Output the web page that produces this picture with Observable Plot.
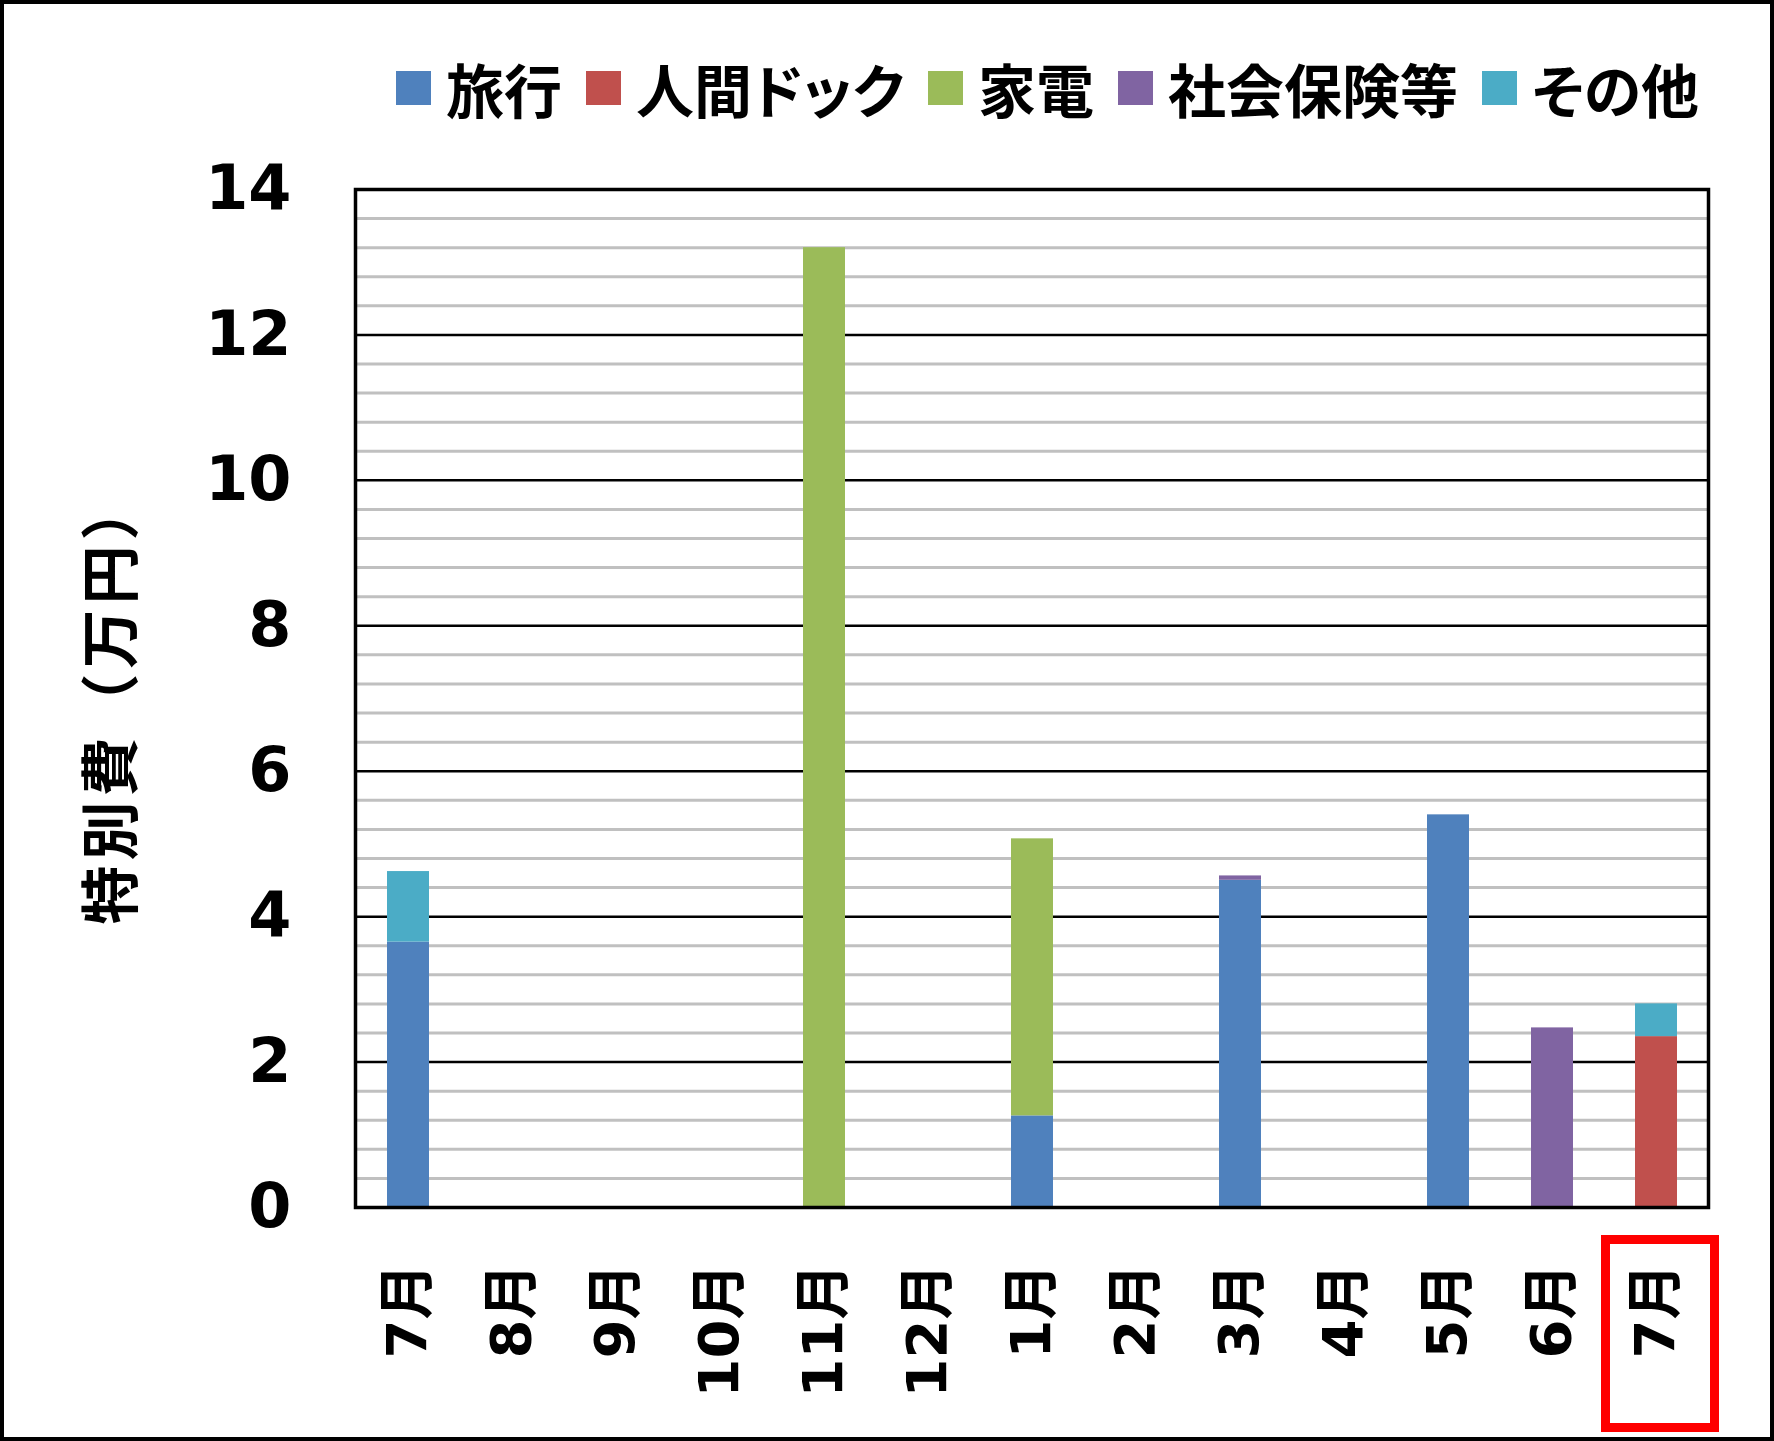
<!DOCTYPE html>
<html>
<head>
<meta charset="utf-8">
<script src="https://cdn.jsdelivr.net/npm/d3@7"></script>
<script src="https://cdn.jsdelivr.net/npm/@observablehq/plot@0.6"></script>
<style>
  html, body { margin: 0; padding: 0; background: #fff; }
  #wrap { position: relative; width: 1774px; height: 1441px; background: #fff; overflow: hidden; }
  #border { position: absolute; left: 0; top: 0; width: 1774px; height: 1441px; box-sizing: border-box; border: 4px solid #000; pointer-events: none; }
  #legend { position: absolute; left: 396px; top: 58px; height: 60px; display: flex; align-items: center;
            font-family: "Noto Sans CJK JP", sans-serif; font-weight: bold; font-size: 58px; color: #000; white-space: nowrap;
            font-feature-settings: "palt"; }
  .item { display: flex; align-items: center; margin-right: 24px; }
  .sw { width: 35px; height: 34px; margin-right: 15px; }
  #chart { position: absolute; left: 0; top: 0; }
  .ytitle text { letter-spacing: 5px; }
</style>
</head>
<body>
<div id="wrap">
  <div id="chart"></div>
  <div id="legend"></div>
  <div id="border"></div>
</div>
<script>
// ---- data ----
const months = ["7月","8月","9月","10月","11月","12月","1月","2月","3月","4月","5月","6月","7月"];
const categories = ["旅行","人間ドック","家電","社会保険等","その他"];
const colors = ["#4F81BD","#C0504D","#9BBB59","#8064A2","#4BACC6"];
const travel   = [3.65, 0, 0, 0, 0,    0, 1.26, 0, 4.50, 0, 5.40, 0,    0];
const dock     = [0,    0, 0, 0, 0,    0, 0,    0, 0,    0, 0,    0,    2.35];
const appliance= [0,    0, 0, 0, 13.2, 0, 3.81, 0, 0,    0, 0,    0,    0];
const social   = [0,    0, 0, 0, 0,    0, 0,    0, 0.06, 0, 0,    2.47, 0];
const other    = [0.97, 0, 0, 0, 0,    0, 0,    0, 0,    0, 0,    0,    0.45];
const yTicks = [0, 2, 4, 6, 8, 10, 12, 14];
const yLabel = "特別費（万円）";
const highlightIndex = 12;

// ---- build table ----
const series = [travel, dock, appliance, social, other];
const keys = months.map((m, i) => String(i));
const labelOf = k => months[+k];
const rows = [];
categories.forEach((c, ci) => {
  series[ci].forEach((v, i) => { if (v > 0) rows.push({key: keys[i], category: c, value: v}); });
});
const minorTicks = d3.range(0, 14.0001, 0.4).map(v => +v.toFixed(1)).filter(v => Math.abs(v / 2 - Math.round(v / 2)) > 1e-6);
const majorInner = yTicks.filter(v => v > 0 && v < 14);

const font = '"DejaVu Sans", "Noto Sans CJK JP", sans-serif';

const chart = Plot.plot({
  width: 1774,
  height: 1441,
  marginLeft: 355,
  marginRight: 66,
  marginTop: 189,
  marginBottom: 234,
  style: {fontFamily: font, fontWeight: "bold", background: "transparent", color: "#000"},
  x: {domain: keys, paddingInner: 0.6, paddingOuter: 0.3, axis: null},
  y: {domain: [0, 14], axis: null},
  color: {domain: categories, range: colors},
  marks: [
    Plot.ruleY(minorTicks, {stroke: "#c0c0c0", strokeWidth: 3}),
    Plot.ruleY(majorInner, {stroke: "#000", strokeWidth: 2.5}),
    Plot.barY(rows, {x: "key", y: "value", fill: "category", order: categories}),
    Plot.frame({stroke: "#000", strokeWidth: 3.5}),
    Plot.axisY({ticks: yTicks, tickSize: 0, tickPadding: 64, fontSize: 62, fontWeight: "bold", label: null}),
    Plot.text(keys, {x: d => d, text: d => labelOf(d), frameAnchor: "bottom", rotate: -90, textAnchor: "end",
                     lineAnchor: "middle", dy: 56, fontSize: 56, fontWeight: "bold", fill: "#000"}),
    Plot.text([yLabel], {frameAnchor: "left", rotate: -90, textAnchor: "middle", lineAnchor: "middle",
                         dx: -242, dy: 2, fontSize: 59, fontWeight: "bold", className: "ytitle",
                         fontFamily: '"Noto Sans CJK JP", sans-serif', fill: "#000"})
  ]
});
document.getElementById("chart").appendChild(chart);

// highlight box around the last month label, positioned via the x scale
const xs = chart.scale("x");
const cx = xs.apply(keys[highlightIndex]) + xs.bandwidth / 2;
d3.select(chart).append("rect")
  .attr("x", cx - 50.5).attr("width", 109)
  .attr("y", 1239.5).attr("height", 188)
  .attr("fill", "none").attr("stroke", "#FF0000").attr("stroke-width", 9);

// legend
const lg = d3.select("#legend");
categories.forEach((c, i) => {
  const it = lg.append("div").attr("class", "item");
  it.append("div").attr("class", "sw").style("background", colors[i]);
  it.append("span").text(c);
});
</script>
</body>
</html>
